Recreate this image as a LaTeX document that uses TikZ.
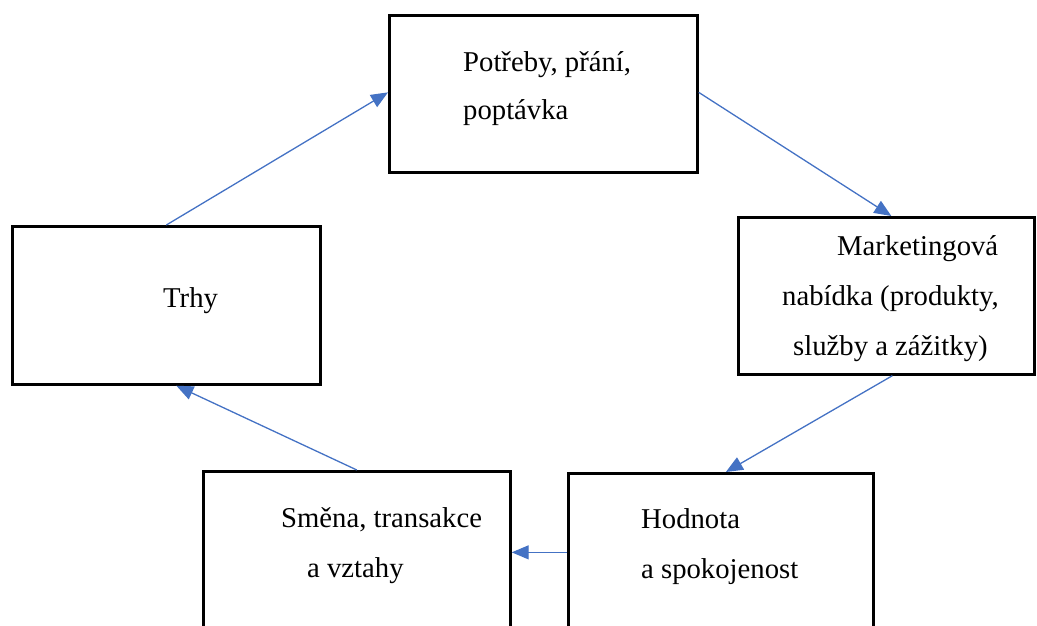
\documentclass[tikz,border=0pt]{standalone}
\usepackage{fontspec}
\setmainfont{Liberation Serif}
\newfontfamily\boxfont{Liberation Serif}
\usetikzlibrary{arrows.meta}
\definecolor{linkblue}{HTML}{4472C4}
\tikzset{
  box/.style={draw=black, line width=2.7pt, fill=white, anchor=north west, inner sep=0pt},
  txt/.style={anchor=base west, inner sep=0pt, font=\boxfont\fontsize{28.7}{40}\selectfont},
  link/.style={draw=linkblue, line width=1.3pt, -{Triangle[length=17pt,width=14pt]}}
}
\begin{document}
\begin{tikzpicture}[x=1pt,y=-1pt]
  \useasboundingbox (0,0) rectangle (1037,625);
  \begin{scope}
    \clip (0,0) rectangle (1037,625);
    % boxes
    \node[box, minimum width=308pt, minimum height=157pt] (pot)   at (388,14)  {};
    \node[box, minimum width=308pt, minimum height=158pt] (trhy)  at (11,225)  {};
    \node[box, minimum width=296pt, minimum height=157pt] (mkt)   at (737,216) {};
    \node[box, minimum width=307pt, minimum height=162pt] (smena) at (202,470) {};
    \node[box, minimum width=305pt, minimum height=158pt] (hod)   at (567,472) {};
  \end{scope}
  % texts
  \node[txt] (t1a) at (463,71)  {Potřeby, přání,};
  \node[txt] (t1b) at (463,119) {poptávka};
  \node[txt] (t2)  at (163,307) {Trhy};
  \node[txt] (t3a) at (837,255) {Marketingová};
  \node[txt] (t3b) at (782,305) {nabídka (produkty,};
  \node[txt] (t3c) at (793,355) {služby a zážitky)};
  \node[txt] (t4a) at (281,527) {Směna, transakce};
  \node[txt] (t4b) at (307,577) {a vztahy};
  \node[txt] (t5a) at (641,528) {Hodnota};
  \node[txt] (t5b) at (641,578) {a spokojenost};
  % connectors
  \draw[link] (trhy.north) -- ([yshift=1.5pt]pot.west);
  \draw[link] ([yshift=1.5pt]pot.east) -- ([xshift=5pt]mkt.north);
  \draw[link] ([xshift=6pt]mkt.south) -- ([xshift=5pt]hod.north);
  \draw[link] (hod.west) -- (smena.east);
  \draw[link] (smena.north) -- ([xshift=10pt]trhy.south);
\end{tikzpicture}
\end{document}
